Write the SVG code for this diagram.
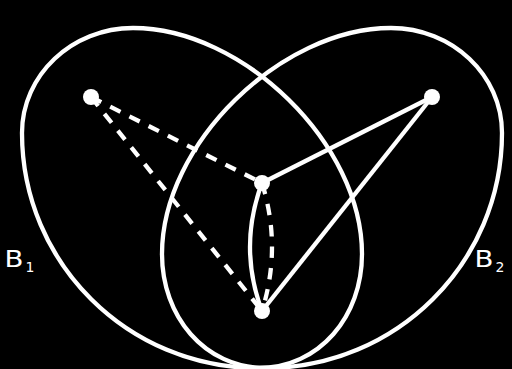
<svg xmlns="http://www.w3.org/2000/svg" width="512" height="369" viewBox="0 0 512 369">
<style>
.region{fill:none;stroke:#fff;stroke-width:4.3}
.edge{fill:none;stroke:#fff;stroke-width:4.3}
.dash{stroke-dasharray:11.5 10}
.node{fill:#fff}
.lbl{fill:#fff;font-family:"DejaVu Sans",sans-serif}
</style>
<rect x="0" y="0" width="512" height="369" fill="#000"/>
<g id="B1">
<path class="region" d="M133,28 C72,28 22,75 22,133 C22,263 128,368 258,368 C320,368 362,316 362,254 C362,144 243,28 133,28 Z"/>
<text class="lbl" transform="translate(4.5,267) scale(1.2,1)" x="0" y="0" font-size="23">B</text>
<text class="lbl" x="25.5" y="272" font-size="14">1</text>
</g>
<g id="B2">
<path class="region" d="M391,28 C452,28 502,75 502,133 C502,263 396,368 266,368 C204,368 162,316 162,254 C162,144 281,28 391,28 Z"/>
<text class="lbl" transform="translate(474.5,267) scale(1.2,1)" x="0" y="0" font-size="23">B</text>
<text class="lbl" x="495.5" y="272" font-size="14">2</text>
</g>
<g id="connectors">
<line class="edge dash" x1="91" y1="97" x2="262" y2="183"/>
<line class="edge dash" x1="91" y1="97" x2="262" y2="311"/>
<line class="edge" x1="432" y1="97" x2="262" y2="183"/>
<line class="edge" x1="432" y1="97" x2="262" y2="311"/>
<path class="edge" d="M262,183 Q238,247 262,311"/>
<path class="edge dash" d="M262,183 Q282,247 262,311"/>
</g>
<g id="n1"><circle class="node" cx="91" cy="97" r="8"/></g>
<g id="n2"><circle class="node" cx="432" cy="97" r="8"/></g>
<g id="n3"><circle class="node" cx="262" cy="183" r="8"/></g>
<g id="n4"><circle class="node" cx="262" cy="311" r="8"/></g>
</svg>
